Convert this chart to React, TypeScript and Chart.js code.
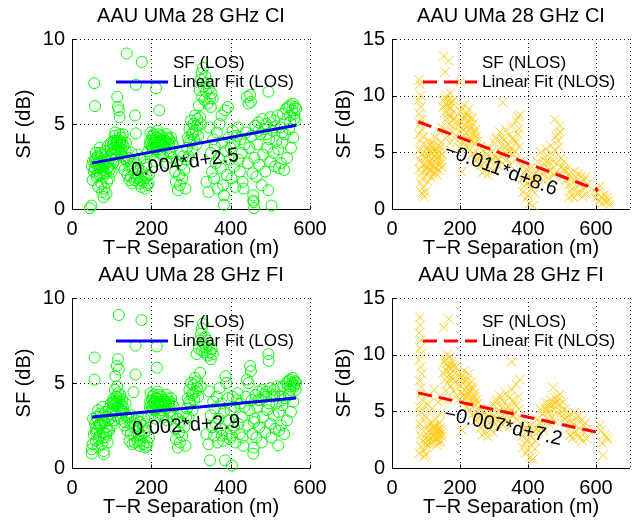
import React, { useEffect, useRef } from 'react';
import { Chart, registerables } from 'chart.js';
Chart.register(...registerables);

const FONT = '"Liberation Sans", Arial, Helvetica, sans-serif';

// ---------- DATA ----------
const panelTitles = ['AAU UMa 28 GHz CI', 'AAU UMa 28 GHz CI', 'AAU UMa 28 GHz FI', 'AAU UMa 28 GHz FI'];
const xLabel = 'T\u2212R Separation (m)';
const yLabel = 'SF (dB)';
const losLegend = ['SF (LOS)', 'Linear Fit (LOS)'];
const nlosLegend = ['SF (NLOS)', 'Linear Fit (NLOS)'];
const fitTexts = ['0.004*d+2.5', '\u22120.011*d+8.6', '0.002*d+2.9', '\u22120.007*d+7.2'];
const fitTextX = [285, 320, 288, 327];
const fitTextY = [2.7, 3.44, 2.48, 3.64];

const xTicksLos = [0, 200, 400, 600];
const xTicksNlos = [0, 200, 400, 600];
const xMaxLos = 600;
const xMaxNlos = 700;
const yTicksLos = [0, 5, 10];
const yTicksNlos = [0, 5, 10, 15];

type P = [number, number];

const losCiFit: P[] = [[50, 2.7], [565, 4.93]];
const nlosCiFit: P[] = [[77, 7.7], [607, 1.65]];
const losFiFit: P[] = [[50, 3.0], [565, 4.12]];
const nlosFiFit: P[] = [[77, 6.63], [611, 3.1]];

const losCiPts: P[] = [
  [45,0.05],[49,0.2],[50,2.5],[52,1.7],[55,2.2],[56,7.4],[58,6.05],[58,2.9],[60,3.3],[62,1.9],[63,2.6],[65,3.1],[66,1.3],[68,2.4],[70,3.6],[70,2.0],[72,2.8],[74,1.5],[75,3.2],[76,1.0],[78,2.3],[80,0.7],[80,2.7],[82,1.2],[84,3.4],[85,2.1],[87,0.9],[88,2.9],[90,3.7],[92,2.5],[94,1.8],[96,3.0],[98,3.9],[100,2.2],
  [53,2.8],[57,2.4],[61,3.0],[64,2.0],[67,2.7],[71,3.3],[73,2.5],[77,2.9],[79,1.9],[83,2.6],[86,3.2],[89,1.6],[91,2.8],[95,2.3],[97,3.5],
  [60,2.7],[70,2.4],[80,2.1],[90,2.4],
  [102,3.3],[104,2.7],[105,4.0],[107,3.6],[108,4.3],[110,2.9],[112,3.9],[114,6.6],[115,4.1],[116,6.0],[117,3.4],[118,5.8],[120,5.4],[120,4.4],[122,3.8],[124,2.6],[125,4.2],[127,3.1],[130,3.7],[132,2.3],[135,3.4],[138,9.15],[138,2.8],
  [103,3.8],[106,3.2],[109,4.5],[111,3.5],[113,4.0],[119,3.6],[121,4.0],[123,3.3],[126,3.9],[128,4.4],[133,3.0],[136,3.9],[105,3.6],[115,3.7],[125,3.5],
  [140,2.0],[142,3.0],[145,1.7],[147,2.5],[150,3.3],[152,1.5],[155,2.8],[157,2.1],[159,5.5],[161,4.45],[161,7.3],[163,1.8],[165,3.2],[167,2.4],[170,1.5],[172,2.9],[175,1.3],[176,8.65],[178,2.2],[180,1.6],[182,3.0],[185,1.2],[187,2.6],[190,1.4],[192,3.4],[194,2.0],
  [148,1.9],[153,2.4],[158,1.7],[168,1.9],[173,1.7],[183,1.8],[188,1.9],[193,1.5],
  [196,3.8],[198,4.5],[200,3.2],[202,4.1],[204,3.6],[206,4.4],[208,3.9],[210,2.8],[212,7.1],[212,4.2],[214,3.5],[216,4.6],[218,3.7],[220,5.8],[220,4.0],[222,3.3],[225,4.3],[227,3.8],[230,3.1],[232,4.1],[235,3.6],[238,4.4],[240,2.7],[243,3.9],[246,3.4],[250,4.2],[253,3.0],[256,3.7],
  [197,4.0],[201,3.7],[203,4.3],[207,3.5],[209,4.0],[211,3.6],[215,4.2],[217,3.9],[219,4.4],[223,3.9],[226,3.5],[229,4.0],[233,3.7],[237,3.9],[241,4.2],[245,3.8],[248,3.3],[252,3.9],
  [205,3.9],[215,3.8],[225,3.9],[235,4.0],[245,4.1],
  [260,2.2],[262,1.6],[265,2.8],[267,1.1],[270,2.0],[272,1.4],[275,2.6],[278,1.8],[280,3.1],[283,2.3],[286,1.2],[288,2.9],
  [290,3.6],[292,4.2],[294,3.1],[296,4.7],[298,3.9],[300,5.2],[302,4.4],[304,3.5],[306,5.0],[308,4.1],[310,5.5],[312,4.6],[314,3.8],[316,5.3],[318,4.3],[320,6.1],[322,7.0],[323,5.4],[325,7.6],[327,8.0],[328,6.6],[330,8.3],[332,7.2],[334,6.4],[336,7.8],[338,6.9],[340,7.4],[342,6.2],[345,7.1],[348,6.5],[350,6.0],[352,6.8],[355,6.5],
  [295,4.0],[305,4.5],[315,4.9],[325,5.0],
  [339,1.6],[344,1.0],[346,4.8],[350,3.3],[353,2.2],[356,4.1],[358,1.8],[360,3.7],[362,2.7],[365,4.5],[367,1.2],[370,3.0],[372,5.0],[375,2.4],[377,5.5],[378,3.9],[381,1.4],[383,0.8],[383,0.25],[386,5.8],[387,3.4],[390,2.0],[393,6.0],[395,4.2],[398,2.9],
  [400,3.6],[402,1.8],[405,4.6],[408,2.5],[410,3.9],[412,1.3],[415,4.3],[418,4.8],[420,2.9],[423,2.2],[425,4.1],[428,3.3],[430,1.6],[432,1.2],[435,3.8],[438,4.5],[441,6.6],[443,2.7],[445,6.2],[447,3.6],[449,6.7],[451,6.3],[453,4.3],[455,2.1],[457,0.8],[457,0.5],[458,0.4],[459,0.05],
  [460,3.0],[462,4.9],[465,1.9],[467,3.8],[470,5.1],[472,2.6],[475,4.4],[478,1.4],[480,5.3],[482,3.2],[485,4.7],[487,2.2],[490,5.0],[492,3.6],[495,6.9],[495,1.1],[497,4.1],[500,5.4],[500,2.8],[503,0.2],[505,4.6],[508,3.3],[510,5.2],[512,2.5],[515,4.0],[518,5.5],
  [470,4.6],[490,4.4],[510,4.8],
  [520,3.5],[522,2.4],[525,4.8],[527,2.7],[530,3.9],[532,5.6],[535,2.3],[537,4.4],[540,5.9],[542,3.0],[545,6.0],[547,4.7],[549,6.1],[550,5.5],[552,3.6],[555,5.8],[557,6.2],[558,4.2],[560,5.6],[562,6.0],[564,5.2],[565,5.9],
  [530,4.5],[550,5.1],[560,5.3],
];

const losFiPts: P[] = [
  [50,1.1],[50,0.85],[52,1.4],[55,2.0],[57,6.5],[57,5.2],[58,2.6],[60,1.6],[62,3.0],[63,2.2],[65,1.2],[66,3.4],[68,2.5],[70,1.9],[72,3.2],[74,2.8],[75,1.4],[77,3.6],[78,2.1],[80,1.0],[80,0.8],[82,2.7],[84,3.3],[85,1.8],[87,2.4],[88,3.0],[90,1.5],[92,3.5],[94,2.2],[96,2.9],[98,3.8],[100,2.5],[53,2.9],[61,2.4],[67,1.7],[71,2.6],[79,3.1],[86,2.0],[91,2.8],[95,3.2],
  [60,2.1],[70,2.6],[80,1.8],[90,2.2],
  [102,3.4],[104,2.8],[105,4.1],[107,3.7],[108,4.6],[109,5.4],[110,3.1],[112,4.2],[113,6.0],[114,4.8],[115,3.6],[116,6.4],[117,4.4],[118,9.0],[118,5.8],[120,3.9],[122,4.3],[124,2.9],[125,3.7],[127,4.0],[130,3.3],[132,2.5],[135,3.8],[137,3.0],[103,3.9],[106,3.3],[111,3.8],[119,4.1],[121,3.5],[126,3.2],[128,3.6],[133,2.7],
  [105,3.8],[115,3.9],[125,3.4],
  [140,2.2],[142,3.0],[145,1.6],[147,2.6],[150,3.1],[152,1.4],[155,4.46],[155,2.4],[157,1.9],[160,7.2],[160,5.5],[162,2.8],[165,1.6],[167,2.3],[170,1.3],[172,2.7],[175,8.7],[175,1.9],[178,2.5],[180,1.4],[182,2.9],[185,1.2],[187,2.2],[190,1.5],[192,3.0],[194,1.8],[148,2.0],[153,2.7],[158,1.5],[168,2.0],[173,1.6],[183,2.1],[188,1.3],
  [196,3.6],[198,4.4],[200,3.1],[202,4.0],[204,3.5],[206,4.3],[208,3.8],[210,2.9],[212,4.1],[214,7.15],[214,5.9],[216,4.5],[218,3.6],[220,3.9],[222,3.2],[225,4.2],[227,3.7],[230,3.0],[232,4.0],[235,3.5],[238,4.3],[240,2.8],[243,3.8],[246,3.3],[250,4.1],[253,3.0],[256,3.6],[197,3.9],[201,3.6],[203,4.2],[207,3.4],[209,3.9],[211,3.5],[215,4.1],[217,3.8],[219,4.3],[223,3.8],[226,3.4],[229,3.9],[233,3.6],[237,3.8],[241,4.1],[245,3.7],[248,3.2],[252,3.8],
  [205,3.8],[215,3.7],[225,3.8],[235,3.9],[245,3.9],
  [260,2.3],[262,1.7],[265,2.9],[267,1.2],[270,2.1],[272,1.5],[275,2.7],[278,1.9],[280,3.2],[283,2.4],[286,1.3],[288,3.0],
  [290,3.5],[292,4.1],[294,3.0],[296,4.6],[298,3.8],[300,5.0],[302,4.3],[304,3.4],[306,4.9],[308,4.0],[310,5.3],[312,4.5],[314,6.7],[316,5.1],[318,4.2],[320,7.0],[322,7.5],[323,5.6],[325,7.9],[327,8.2],[328,6.9],[330,8.5],[332,7.3],[334,6.8],[336,7.7],[338,7.1],[340,7.5],[342,6.6],[345,7.2],[348,6.8],[350,6.4],[352,7.0],[355,6.7],
  [295,3.9],[305,4.4],[315,4.7],[325,4.8],
  [339,2.0],[344,1.4],[346,4.5],[348,0.45],[350,3.1],[353,2.4],[356,3.9],[358,1.9],[360,3.5],[362,2.6],[365,4.2],[367,1.5],[370,2.9],[372,4.7],[375,2.3],[377,3.8],[378,1.9],[381,1.6],[383,3.3],[386,0.45],[387,5.4],[389,5.0],[390,2.0],[393,4.1],[395,2.8],[398,1.7],
  [400,3.4],[402,1.9],[403,0.15],[405,4.2],[408,2.4],[410,3.6],[412,1.5],[415,4.0],[418,4.4],[420,2.6],[423,2.0],[425,3.8],[428,3.0],[430,1.8],[432,1.3],[435,3.6],[438,4.2],[441,5.2],[443,2.5],[445,5.0],[447,3.4],[449,6.0],[451,5.7],[453,4.0],[455,2.0],[457,0.84],[458,1.2],[459,2.7],
  [460,2.9],[462,4.3],[465,1.8],[467,3.6],[470,4.5],[472,2.4],[475,4.0],[478,1.5],[480,4.6],[482,3.0],[485,4.3],[487,2.1],[490,4.5],[492,3.4],[495,6.7],[496,6.3],[497,3.8],[500,4.7],[500,2.6],[503,1.8],[505,4.2],[508,3.1],[510,4.6],[512,2.3],[515,3.8],[518,4.8],
  [470,4.0],[490,4.2],[510,4.3],
  [520,1.33],[521,3.3],[522,2.2],[525,4.2],[527,2.5],[530,3.7],[532,4.8],[535,2.0],[537,4.1],[540,5.0],[542,2.8],[545,5.1],[547,4.3],[549,5.2],[550,4.8],[552,3.3],[555,5.0],[557,5.3],[558,3.9],[560,4.8],[562,5.1],[564,4.6],[565,5.0],
  [530,4.0],[550,4.6],[560,4.9],
];

const nlosCiPts: P[] = [
  [80,11.4],[82,11.0],[84,10.0],[78,9.6],[85,9.0],[80,8.4],[86,7.9],[82,7.5],[88,7.0],[79,6.6],[84,6.1],[90,5.7],[81,5.2],[87,4.8],[83,4.3],[91,3.9],[80,3.5],[86,3.1],[89,2.7],[84,2.3],[92,1.9],[88,1.4],[95,1.1],[93,6.4],[96,5.0],[97,3.4],
  [98,1.5],[100,4.5],[102,3.0],[104,5.5],[106,2.4],[108,4.0],[110,6.0],[112,3.5],[114,5.0],[116,2.8],[118,4.4],[120,3.8],[122,5.8],[124,4.7],[126,3.2],[128,6.3],[130,4.1],[132,3.6],[134,5.2],[136,4.6],[138,3.4],[140,6.8],[142,5.5],[144,4.0],[146,7.2],[148,4.8],[103,3.7],[107,5.1],[111,4.3],[115,3.9],[119,5.4],[123,4.2],[127,3.7],[131,4.9],[135,3.9],[139,5.0],[143,4.3],[147,3.7],
  [101,4.0],[105,4.8],[109,3.3],[113,5.7],[117,4.9],[121,3.1],[125,5.1],[129,4.4],[133,3.0],[137,5.6],[141,4.7],[145,5.9],
  [152,13.5],[156,12.1],[167,13.1],[150,9.0],[152,9.5],[155,8.5],[157,9.8],[160,9.2],[162,10.0],[164,8.8],[166,9.6],[168,7.5],[170,9.0],[172,10.2],[174,8.2],[176,9.4],[178,6.8],[180,8.6],[182,7.2],[185,8.0],[188,6.5],[190,7.7],[193,6.0],[196,7.3],[199,5.4],[158,7.0],[163,6.4],[171,5.8],
  [161,8.0],[165,8.4],[169,9.3],[173,8.9],[177,7.9],[181,9.6],
  [201,11.2],[202,8.6],[204,6.8],[206,3.3],[208,8.0],[210,5.9],[212,9.2],[214,7.4],[216,6.3],[218,8.4],[220,5.5],[222,7.8],[224,6.9],[226,8.8],[228,5.2],[230,7.1],[232,6.2],[234,8.1],[236,4.8],[238,7.5],[240,6.6],[242,5.8],[244,7.0],[246,4.3],[248,6.4],[250,5.0],[252,6.0],[255,4.5],[258,5.5],
  [203,7.7],[207,8.9],[211,7.0],[215,8.1],[219,6.7],[223,8.2],[227,7.4],[231,6.0],[235,7.9],[239,5.9],[243,6.8],
  [260,3.8],[263,4.6],[266,3.2],[269,5.2],[272,4.0],[275,3.5],[278,4.8],[281,3.0],[284,5.5],[287,4.2],[290,3.6],[293,5.0],[296,4.4],[299,3.3],
  [302,5.8],[305,4.5],[308,6.3],[311,3.8],[314,5.2],[317,6.8],[320,4.7],[323,5.6],[326,9.4],[326,4.0],[329,6.1],[332,5.0],[335,7.0],[338,4.4],[341,5.7],[344,6.5],[347,3.9],[350,5.3],[353,7.3],[356,4.8],[359,6.0],[362,5.1],[365,7.8],[368,4.5],[371,6.6],[374,5.5],[376,8.3],[378,4.2],[371,8.1],[375,7.1],
  [305,6.2],[315,4.4],[325,6.3],[335,5.5],[345,5.0],[355,6.3],[365,5.9],
  [381,3.8],[383,2.6],[385,1.5],[388,3.2],[390,2.0],[393,0.9],[396,3.5],[398,2.3],[400,1.2],[403,2.9],[405,0.5],[407,3.6],[410,1.8],[412,2.5],[415,0.3],[417,3.0],[420,1.4],[422,2.2],[425,3.3],
  [428,4.2],[431,2.8],[434,3.6],[437,5.0],[440,3.1],[443,4.4],[446,2.5],[449,3.9],[452,5.3],[455,3.3],[458,4.7],[461,2.7],[464,4.1],[467,5.6],[470,3.5],[473,4.8],[476,3.0],[479,7.9],[479,5.2],[482,6.4],[485,4.0],[488,6.0],[489,6.6],[491,5.5],[494,7.35],[494,6.8],[497,4.5],[500,3.8],[503,2.9],[506,4.2],[509,3.3],[512,2.5],[515,3.6],
  [455,4.2],[465,3.4],[475,4.2],[485,3.3],[505,3.5],
  [518,2.1],[521,3.1],[524,1.6],[527,2.7],[530,1.2],[533,2.3],[536,3.3],[539,1.8],[542,2.8],[545,1.4],[548,3.1],[551,2.2],[554,1.6],[557,2.9],[560,1.1],[563,2.5],[566,1.8],[569,2.8],[572,1.3],[575,2.2],[520,1.0],[535,1.0],
  [595,1.6],[600,1.0],[604,1.4],[608,0.7],[612,2.06],[615,1.1],[618,0.5],[621,0.9],[625,1.3],[628,0.6],[632,1.0],[636,0.7],[640,0.4],
];

const nlosFiPts: P[] = [
  [82,13.3],[84,12.6],[80,11.9],[85,11.3],[82,10.6],[87,10.1],[79,9.5],[84,8.9],[88,8.3],[81,7.7],[86,7.1],[83,6.5],[89,6.0],[80,5.4],[85,4.9],[90,4.4],[82,3.9],[87,3.4],[84,2.9],[91,2.4],[86,1.9],[80,1.3],[93,1.5],[95,1.0],[96,5.5],[97,2.2],
  [98,1.2],[100,3.0],[102,4.5],[104,2.1],[106,5.6],[108,3.3],[110,6.4],[112,2.6],[114,4.0],[116,3.0],[118,5.2],[120,2.4],[122,3.6],[124,6.9],[126,2.9],[128,4.3],[130,3.2],[132,2.0],[134,3.8],[136,5.8],[138,2.7],[140,3.5],[142,4.8],[144,2.3],[146,3.1],[148,6.2],[103,1.8],[107,2.5],[111,3.8],[115,2.2],[119,3.3],[123,2.8],[127,3.5],[131,2.6],[135,3.0],[139,4.0],[143,3.3],[147,2.8],
  [101,2.6],[105,3.7],[109,2.2],[113,3.1],[117,2.7],[121,2.9],[125,3.8],[129,2.4],[133,3.4],[137,2.3],[141,3.0],
  [152,12.4],[167,13.15],[150,8.4],[152,9.3],[155,7.8],[157,9.6],[160,8.6],[162,10.0],[164,7.5],[166,9.0],[168,8.2],[170,9.8],[172,7.2],[174,8.8],[176,9.4],[178,7.8],[180,8.5],[182,6.8],[185,7.6],[188,8.9],[190,6.4],[193,7.4],[196,6.0],[199,8.2],[158,6.8],[163,6.0],
  [161,9.2],[165,8.5],[169,7.8],[173,9.1],[177,8.1],[181,9.0],
  [202,8.0],[204,6.6],[206,3.35],[208,7.5],[210,5.8],[212,8.6],[214,6.9],[216,6.1],[218,7.8],[220,5.4],[222,7.3],[224,6.5],[226,8.3],[228,5.1],[230,6.8],[232,5.9],[234,7.6],[236,4.7],[238,7.0],[240,6.2],[242,5.5],[244,6.6],[246,4.2],[248,6.0],[250,4.9],[252,5.7],[255,4.4],[258,5.2],
  [203,7.2],[207,8.2],[211,6.5],[215,7.7],[219,6.3],[223,7.9],[227,6.8],[231,6.2],[235,7.2],[239,5.8],[243,6.3],
  [260,3.5],[263,4.4],[266,2.9],[269,5.0],[272,3.8],[275,3.2],[278,4.6],[281,2.8],[284,5.2],[287,4.0],[290,3.4],[293,4.8],[296,4.2],[299,3.1],
  [302,5.5],[305,4.3],[308,6.0],[311,3.6],[314,5.0],[317,6.4],[320,4.5],[323,5.3],[326,3.8],[329,5.8],[332,4.8],[335,6.6],[338,4.2],[341,5.4],[344,6.2],[347,3.7],[350,5.0],[352,9.36],[353,6.9],[356,4.6],[359,5.7],[362,4.9],[365,7.4],[368,4.3],[371,6.3],[374,5.2],[376,7.8],[378,4.0],
  [305,5.8],[315,4.2],[325,6.0],[335,5.2],[345,4.8],[355,6.0],[365,5.5],
  [381,3.9],[383,2.8],[385,1.8],[388,3.4],[390,2.2],[393,1.3],[396,3.6],[398,2.5],[400,1.6],[403,3.0],[405,0.9],[407,3.7],[410,2.0],[412,2.7],[415,0.8],[417,3.2],[420,1.7],[422,2.4],[425,3.5],
  [428,4.3],[431,3.2],[434,4.0],[437,5.2],[440,3.6],[443,4.8],[446,3.3],[449,5.3],[452,5.8],[455,4.4],[458,5.4],[461,3.9],[464,5.0],[467,6.0],[470,4.5],[473,5.6],[474,7.1],[476,4.2],[479,6.2],[482,5.7],[485,4.9],[488,6.3],[491,5.6],[494,6.5],[497,5.0],[500,4.6],[503,5.8],[506,4.4],[509,5.2],[512,3.9],[515,4.5],
  [455,5.0],[465,5.6],[475,5.2],[485,5.9],[505,5.1],
  [518,3.4],[521,4.6],[524,2.9],[527,4.1],[530,2.6],[533,3.8],[536,4.9],[539,3.2],[542,4.3],[545,2.8],[548,4.6],[551,3.5],[554,2.7],[557,4.2],[560,2.4],[563,3.8],[566,3.1],[569,4.0],[572,2.6],[575,3.4],
  [612,3.76],[615,3.3],[618,2.2],[621,1.12],[625,2.9],[631,2.73],[635,2.5],
];

// ---------- LAYOUT / STYLE ----------
type Panel = {
  idx: number;
  left: number; top: number; right: number; bottom: number;
  los: boolean;
  pts: P[]; fit: P[];
  xTicks: number[]; xMax: number; yTicks: number[];
  angle: number;
  legLine: [number, number]; legText: number;
};

const panels: Panel[] = [
  { idx: 0, left: 72, top: 39, right: 310, bottom: 209, los: true, pts: losCiPts, fit: losCiFit, xTicks: xTicksLos, xMax: xMaxLos, yTicks: yTicksLos, angle: -8.5, legLine: [44, 96], legText: 101 },
  { idx: 1, left: 392, top: 39, right: 630, bottom: 209, los: false, pts: nlosCiPts, fit: nlosCiFit, xTicks: xTicksNlos, xMax: xMaxNlos, yTicks: yTicksNlos, angle: 20, legLine: [31, 85], legText: 90 },
  { idx: 2, left: 72, top: 298, right: 310, bottom: 468, los: true, pts: losFiPts, fit: losFiFit, xTicks: xTicksLos, xMax: xMaxLos, yTicks: yTicksLos, angle: -4, legLine: [44, 96], legText: 101 },
  { idx: 3, left: 392, top: 298, right: 630, bottom: 468, los: false, pts: nlosFiPts, fit: nlosFiFit, xTicks: xTicksNlos, xMax: xMaxNlos, yTicks: yTicksNlos, angle: 12.5, legLine: [31, 85], legText: 90 },
];

const W = 641, H = 523;
const GREEN = '#00ff00';
const GOLD = 'rgb(255,204,30)';

function makePlugin(p: Panel) {
  return {
    id: 'panelDecor' + p.idx,
    beforeDatasetsDraw(chart: any) {
      const { ctx, chartArea: a, scales } = chart;
      const xs = scales.x, ys = scales.y;
      ctx.save();
      ctx.strokeStyle = '#222';
      ctx.lineWidth = 1;
      ctx.setLineDash([1, 3]);
      const xg = [...p.xTicks, p.xMax].filter((v, i, arr) => arr.indexOf(v) === i && v > 0);
      for (const v of xg) {
        const px = Math.round(xs.getPixelForValue(v)) + 0.5;
        ctx.beginPath(); ctx.moveTo(px, a.top); ctx.lineTo(px, a.bottom); ctx.stroke();
      }
      for (const v of p.yTicks) {
        if (v <= 0) continue;
        const py = Math.round(ys.getPixelForValue(v)) + 0.5;
        ctx.beginPath(); ctx.moveTo(a.left, py); ctx.lineTo(a.right, py); ctx.stroke();
      }
      ctx.setLineDash([]);
      ctx.strokeStyle = '#000';
      const L = Math.round(a.left) + 0.5, B = Math.round(a.bottom) + 0.5;
      ctx.beginPath();
      ctx.moveTo(L, a.top); ctx.lineTo(L, B); ctx.lineTo(a.right, B);
      ctx.stroke();
      for (const v of p.xTicks) {
        const px = Math.round(xs.getPixelForValue(v)) + 0.5;
        ctx.beginPath(); ctx.moveTo(px, B); ctx.lineTo(px, B - 4); ctx.stroke();
      }
      for (const v of p.yTicks) {
        const py = Math.round(ys.getPixelForValue(v)) + 0.5;
        ctx.beginPath(); ctx.moveTo(L, py); ctx.lineTo(L + 4, py); ctx.stroke();
      }
      ctx.restore();
    },
    afterDraw(chart: any) {
      const { ctx, chartArea: a, scales } = chart;
      const xs = scales.x, ys = scales.y;
      const cx = (a.left + a.right) / 2, cy = (a.top + a.bottom) / 2;
      ctx.save();
      ctx.fillStyle = '#000';
      ctx.textAlign = 'center';
      ctx.textBaseline = 'middle';
      ctx.font = `20px ${FONT}`;
      ctx.fillText(panelTitles[p.idx], cx, a.top - 23);
      ctx.fillText(xLabel, cx, a.bottom + 39);
      ctx.save();
      ctx.translate(a.left - 48, cy);
      ctx.rotate(-Math.PI / 2);
      ctx.fillText(yLabel, 0, 0);
      ctx.restore();

      // legend
      const leg = p.los ? losLegend : nlosLegend;
      ctx.font = `17px ${FONT}`;
      ctx.textAlign = 'left';
      ctx.fillText(leg[0], a.left + p.legText, a.top + 24);
      ctx.fillText(leg[1], a.left + p.legText, a.top + 43);
      ctx.strokeStyle = p.los ? '#0000ff' : '#ff0000';
      ctx.lineWidth = 3;
      ctx.setLineDash(p.los ? [] : [14, 7]);
      ctx.beginPath();
      ctx.moveTo(a.left + p.legLine[0], a.top + 43);
      ctx.lineTo(a.left + p.legLine[1], a.top + 43);
      ctx.stroke();
      ctx.setLineDash([]);

      // fit annotation
      ctx.font = `20px ${FONT}`;
      ctx.textAlign = 'center';
      ctx.translate(xs.getPixelForValue(fitTextX[p.idx]), ys.getPixelForValue(fitTextY[p.idx]));
      ctx.rotate((p.angle * Math.PI) / 180);
      ctx.fillText(fitTexts[p.idx], 0, 0);
      ctx.restore();
    },
  };
}

function PanelChart({ p }: { p: Panel }) {
  const ref = useRef<HTMLCanvasElement | null>(null);
  useEffect(() => {
    if (!ref.current) return;
    const tickFont = { family: FONT, size: 20 };
    const chart = new Chart(ref.current, {
      type: 'scatter',
      data: {
        datasets: [
          {
            type: 'line',
            data: p.fit.map(([x, y]) => ({ x, y })),
            borderColor: p.los ? '#0000ff' : '#ff0000',
            borderWidth: 3,
            borderDash: p.los ? [] : [14, 7],
            pointRadius: 0,
            fill: false,
            order: 0,
            clip: false,
          } as any,
          {
            type: 'scatter',
            data: p.pts.map(([x, y]) => ({ x, y })),
            pointStyle: p.los ? 'circle' : 'crossRot',
            pointRadius: p.los ? 5.5 : 6.5,
            borderColor: p.los ? GREEN : GOLD,
            backgroundColor: 'rgba(0,0,0,0)',
            borderWidth: 1,
            order: 1,
            clip: false,
          } as any,
        ],
      },
      options: {
        animation: false,
        responsive: false,
        events: [],
        layout: { padding: { left: p.left - 40, right: W - p.right, top: p.top, bottom: H - p.bottom - 30 } },
        plugins: { legend: { display: false }, tooltip: { enabled: false }, title: { display: false } },
        scales: {
          x: {
            type: 'linear', min: 0, max: p.xMax,
            afterBuildTicks: (s: any) => { s.ticks = p.xTicks.map((v) => ({ value: v })); },
            afterFit: (s: any) => { s.height = 30; },
            grid: { display: false, drawTicks: false },
            border: { display: false },
            ticks: { font: tickFont, color: '#000', padding: 8, maxRotation: 0, autoSkip: false },
          },
          y: {
            type: 'linear', min: 0, max: p.yTicks[p.yTicks.length - 1],
            afterBuildTicks: (s: any) => { s.ticks = p.yTicks.map((v) => ({ value: v })); },
            afterFit: (s: any) => { s.width = 40; },
            grid: { display: false, drawTicks: false },
            border: { display: false },
            ticks: { font: tickFont, color: '#000', padding: 7, autoSkip: false },
          },
        },
      } as any,
      plugins: [makePlugin(p)],
    });
    return () => chart.destroy();
  }, [p]);
  return (
    <canvas
      ref={ref}
      width={W}
      height={H}
      style={{ position: 'absolute', left: 0, top: 0, width: W, height: H }}
    />
  );
}

export default function App() {
  return (
    <div style={{ position: 'absolute', left: 0, top: 0, width: W, height: H, background: '#fff', overflow: 'hidden' }}>
      {panels.map((p) => (
        <PanelChart key={p.idx} p={p} />
      ))}
    </div>
  );
}
